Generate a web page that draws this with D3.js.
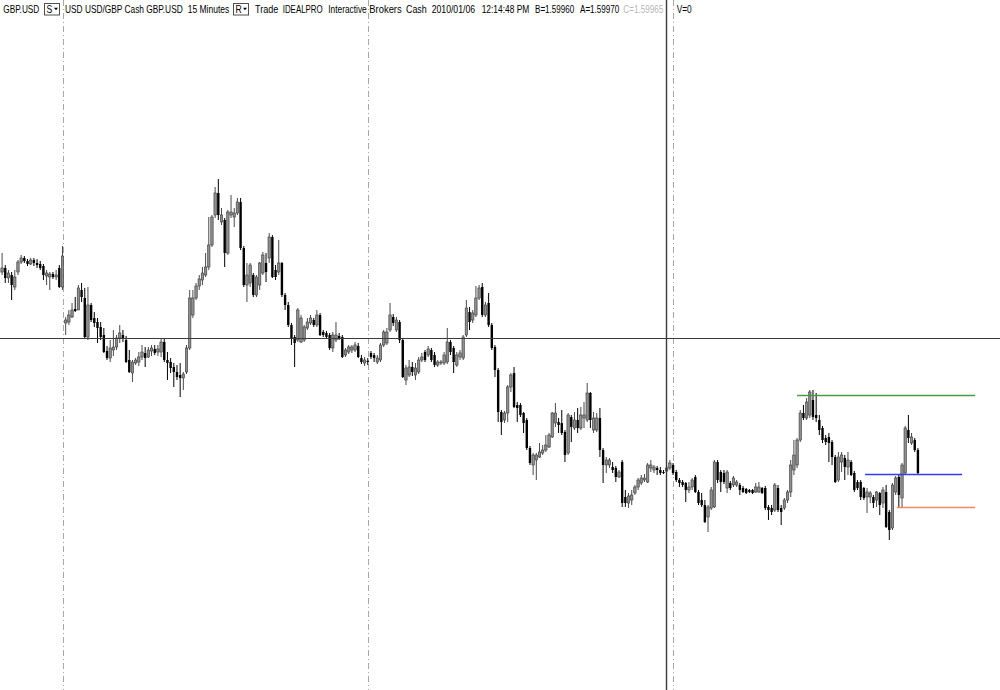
<!DOCTYPE html>
<html><head><meta charset="utf-8">
<script src="https://cdn.jsdelivr.net/npm/d3@7"></script>
<style>html,body{margin:0;padding:0;background:#fff;}svg{display:block;}</style>
</head><body>
<svg id="chart" width="1000" height="690"></svg>
<script>
// ---------- data ----------
const headerTexts = ["GBP.USD","S","USD USD/GBP Cash GBP.USD","15 Minutes","R","Trade","IDEALPRO","Interactive","Brokers","Cash","2010/01/06","12:14:48 PM","B=1.59960","A=1.59970","C=1.59965","V=0"];

const opens = [1.6097,1.6096,1.6098,1.6093,1.60945,1.60885,1.6096,1.6101,1.6103,1.61015,
1.6100,1.6102,1.61005,1.6100,1.6099,1.6094,1.60935,1.6095,1.60935,1.6098,
1.60885,1.60705,1.6071,1.60735,1.60775,1.6077,1.6087,1.6083,1.60635,1.60795,
1.6073,1.6071,1.60685,1.60645,1.60565,1.6053,1.6057,1.60585,1.6063,1.60645,
1.6062,1.6052,1.60455,1.60505,1.6051,1.60535,1.60555,1.60535,1.60565,1.60575,
1.6056,1.6056,1.6061,1.6052,1.6051,1.60485,1.6046,1.60445,1.6043,1.6046,
1.6058,1.60745,1.6083,1.6089,1.6092,1.60945,1.60985,1.61095,1.61245,1.61355,
1.6121,1.6122,1.61055,1.61245,1.61235,1.61255,1.6131,1.6108,1.60895,1.60905,
1.60945,1.60845,1.60895,1.60955,1.61005,1.6103,1.61135,1.6097,1.6096,1.61005,
1.60845,1.60795,1.60695,1.60635,1.6062,1.6061,1.6062,1.6068,1.60705,1.6072,
1.60695,1.60745,1.6066,1.60655,1.60645,1.6058,1.6062,1.6064,1.60635,1.60545,
1.6056,1.6057,1.6057,1.6059,1.6053,1.60505,1.60515,1.60555,1.60545,1.6051,
1.6052,1.60595,1.60605,1.6067,1.60735,1.6067,1.6071,1.6062,1.6042,1.60445,
1.60485,1.60445,1.6046,1.6052,1.6056,1.60545,1.6057,1.60545,1.60495,1.60505,
1.60505,1.6051,1.6061,1.6058,1.60495,1.60535,1.6053,1.60645,1.6076,1.6072,
1.60745,1.6083,1.60885,1.60745,1.60805,1.60695,1.60585,1.6047,1.6026,1.6022,
1.60255,1.60385,1.60455,1.60295,1.60295,1.60255,1.6022,1.6008,1.59995,1.6002,
1.60035,1.60055,1.6007,1.60085,1.60135,1.60205,1.6021,1.60205,1.6016,1.60055,
1.60235,1.6018,1.6022,1.6018,1.6023,1.6022,1.60355,1.6017,1.6017,1.6023,
1.6007,1.59995,1.59995,1.59985,1.5998,1.59935,1.6001,1.59835,1.59805,1.5982,
1.59855,1.59885,1.59905,1.5992,1.5991,1.5998,1.5997,1.5998,1.5997,1.5996,
1.59965,1.5998,1.59995,1.5996,1.5992,1.5991,1.59905,1.5987,1.59885,1.59935,
1.5986,1.5982,1.59795,1.59735,1.5978,1.59785,1.6001,1.5996,1.59955,1.5988,
1.59905,1.59895,1.59895,1.59895,1.5988,1.59875,1.5987,1.5987,1.5986,1.5986,
1.5988,1.5988,1.59785,1.5978,1.5977,1.5988,1.5978,1.5978,1.5982,1.5986,
1.5997,1.59995,1.6012,1.60255,1.6023,1.60245,1.6032,1.60245,1.6022,1.6018,
1.6013,1.60135,1.6011,1.60035,1.5992,1.6001,1.6003,1.59985,1.6001,1.59955,
1.5991,1.5991,1.5988,1.59835,1.59835,1.59835,1.5982,1.59855,1.59805,1.5986,
1.5976,1.5968,1.5986,1.59935,1.5983,1.59955,1.6017,1.60105,1.6012,1.6007];

const highs = [1.60995,1.61055,1.60995,1.6097,1.6096,1.6097,1.6102,1.61045,1.6104,1.61025,
1.6103,1.6103,1.61025,1.61015,1.6100,1.6097,1.6096,1.6096,1.6097,1.60995,
1.6109,1.60735,1.6077,1.60805,1.60835,1.60895,1.60905,1.6088,1.60885,1.60805,
1.6076,1.6073,1.6071,1.6068,1.6059,1.6062,1.6067,1.60645,1.60695,1.6067,
1.6064,1.6057,1.6052,1.6053,1.6056,1.60595,1.60585,1.60585,1.60595,1.60595,
1.60595,1.6063,1.6063,1.6056,1.6053,1.60505,1.60495,1.60505,1.6046,1.60595,
1.6087,1.6087,1.60905,1.60945,1.60985,1.61055,1.61235,1.61245,1.61385,1.61425,
1.6128,1.6123,1.6127,1.61345,1.6128,1.6133,1.6133,1.6109,1.61005,1.61005,
1.60955,1.60945,1.6101,1.6106,1.61055,1.61155,1.61145,1.60995,1.6112,1.6101,
1.60855,1.6081,1.60705,1.60645,1.6078,1.60745,1.60695,1.6073,1.60745,1.6073,
1.6077,1.60755,1.6067,1.60665,1.60655,1.6066,1.6071,1.60655,1.60645,1.6058,
1.60595,1.60595,1.6061,1.60605,1.60545,1.60535,1.6053,1.60565,1.60555,1.60545,
1.60605,1.6067,1.6068,1.60805,1.6075,1.60735,1.6072,1.6063,1.60495,1.6052,
1.6051,1.60505,1.60535,1.60555,1.6057,1.6059,1.6058,1.6056,1.6052,1.6052,
1.6056,1.6068,1.6062,1.6059,1.6056,1.6057,1.60645,1.6082,1.60785,1.6077,
1.6089,1.60895,1.60905,1.6081,1.60855,1.60705,1.60595,1.6048,1.6027,1.60265,
1.60395,1.60455,1.60485,1.6031,1.60305,1.6026,1.6023,1.6009,1.60055,1.60055,
1.60105,1.60095,1.60145,1.60155,1.6026,1.60305,1.6023,1.6027,1.6017,1.60255,
1.60245,1.6026,1.6028,1.60285,1.6031,1.60405,1.6036,1.6026,1.60255,1.6028,
1.6008,1.60035,1.6003,1.6001,1.5999,1.5997,1.6002,1.5987,1.59855,1.5987,
1.59895,1.5993,1.59945,1.5995,1.60005,1.6002,1.59995,1.5999,1.59985,1.5997,
1.5999,1.6002,1.60005,1.5997,1.5993,1.5992,1.5991,1.5991,1.5993,1.59945,
1.5987,1.59855,1.5982,1.59795,1.59885,1.6002,1.6002,1.5997,1.5997,1.5997,
1.59915,1.5994,1.5992,1.59905,1.5989,1.5988,1.59875,1.59875,1.59905,1.5991,
1.59885,1.5989,1.59795,1.59795,1.59905,1.59895,1.59795,1.5983,1.5987,1.6002,
1.6012,1.6013,1.6027,1.60295,1.6033,1.6037,1.6037,1.60355,1.60245,1.6019,
1.60145,1.60155,1.6012,1.60045,1.6006,1.6006,1.60045,1.6006,1.6002,1.59965,
1.5992,1.5992,1.59885,1.5988,1.59865,1.59845,1.59865,1.5986,1.59885,1.59895,
1.5977,1.59905,1.5994,1.59945,1.60005,1.6019,1.60245,1.60155,1.6013,1.6008];

const lows = [1.60905,1.60945,1.60905,1.60905,1.6082,1.6087,1.60945,1.6100,1.61005,1.6099,
1.60995,1.6099,1.6098,1.6097,1.6092,1.60895,1.6087,1.60925,1.6092,1.6088,
1.6087,1.60645,1.60695,1.6073,1.6076,1.6077,1.6081,1.6063,1.6062,1.6071,
1.60685,1.60605,1.6062,1.60555,1.6052,1.6051,1.6054,1.6057,1.60605,1.6061,
1.60505,1.60455,1.6041,1.60495,1.6049,1.6052,1.60485,1.6053,1.6054,1.60545,
1.6054,1.60535,1.6051,1.6042,1.60455,1.60385,1.6042,1.60335,1.6037,1.6045,
1.6057,1.6073,1.6082,1.6087,1.60895,1.60935,1.6097,1.61085,1.6123,1.6122,
1.61195,1.60985,1.61045,1.6123,1.61185,1.61245,1.6107,1.60885,1.6081,1.60885,
1.60835,1.60835,1.6087,1.60945,1.6091,1.61005,1.6093,1.6092,1.60945,1.60835,
1.6077,1.60685,1.60595,1.60485,1.6061,1.60605,1.6061,1.6067,1.60695,1.60685,
1.60685,1.6064,1.60635,1.60625,1.6057,1.6056,1.6061,1.6062,1.6053,1.60535,
1.6055,1.60555,1.6056,1.6053,1.6050,1.6049,1.60495,1.60525,1.6051,1.6050,
1.6051,1.60585,1.60595,1.6066,1.6069,1.6066,1.60605,1.6043,1.60395,1.60435,
1.6044,1.6042,1.6045,1.6051,1.6051,1.60535,1.6051,1.60485,1.60485,1.60495,
1.60495,1.6050,1.60545,1.60455,1.60485,1.6052,1.6052,1.60635,1.6067,1.60705,
1.60735,1.6082,1.60735,1.60735,1.60685,1.6057,1.60435,1.6021,1.60145,1.60205,
1.6021,1.6036,1.6028,1.6021,1.60235,1.60155,1.6007,1.59995,1.59945,1.5992,
1.6003,1.60045,1.6006,1.6008,1.6013,1.60185,1.60155,1.60145,1.6001,1.60045,
1.6011,1.6017,1.60155,1.6017,1.6018,1.6021,1.6018,1.60155,1.6016,1.60035,
1.59905,1.59955,1.5998,1.59955,1.5991,1.5993,1.59785,1.59785,1.5978,1.59795,
1.59845,1.5987,1.59895,1.5991,1.59905,1.5996,1.59955,1.59945,1.59945,1.5995,
1.5996,1.5997,1.59945,1.5991,1.59885,1.59885,1.5981,1.59855,1.5987,1.59855,
1.59795,1.59785,1.59705,1.5966,1.5977,1.5978,1.59905,1.5986,1.5990,1.59855,
1.5987,1.59885,1.59885,1.59845,1.59855,1.5985,1.59855,1.5985,1.59855,1.59855,
1.5985,1.5977,1.5972,1.59745,1.5976,1.5976,1.59695,1.5977,1.59805,1.59835,
1.59945,1.5998,1.6011,1.6022,1.6022,1.6023,1.6022,1.6021,1.60145,1.60105,
1.60095,1.6001,1.59995,1.59905,1.5991,1.5996,1.5992,1.59945,1.5994,1.5986,
1.5987,1.5982,1.5982,1.59755,1.59805,1.5978,1.59785,1.59745,1.5978,1.5968,
1.5962,1.5967,1.59845,1.5978,1.5978,1.59945,1.60105,1.60095,1.6006,1.59945];

const closes = [1.60955,1.6098,1.6093,1.60955,1.60895,1.60935,1.6101,1.6103,1.61015,1.6100,
1.6102,1.61005,1.60995,1.6098,1.60945,1.60955,1.6095,1.60935,1.60945,1.60885,
1.6104,1.6072,1.60745,1.6077,1.60765,1.6088,1.60835,1.60635,1.60795,1.6072,
1.60705,1.6068,1.60635,1.6056,1.6053,1.6058,1.60585,1.6063,1.60655,1.60625,
1.6051,1.6046,1.6051,1.6052,1.60535,1.6056,1.6053,1.6057,1.6058,1.60555,
1.60575,1.6061,1.6052,1.60505,1.6048,1.6046,1.60435,1.6043,1.6045,1.6058,
1.6083,1.6083,1.6089,1.60925,1.60955,1.60985,1.61095,1.61235,1.61355,1.61245,
1.61245,1.61055,1.6126,1.6126,1.61255,1.6131,1.6108,1.60895,1.60945,1.60995,
1.60845,1.60935,1.61005,1.61045,1.6096,1.61135,1.60935,1.60935,1.61005,1.60845,
1.60795,1.60695,1.6063,1.60605,1.6077,1.6073,1.60685,1.6071,1.6073,1.60695,
1.60745,1.60645,1.60645,1.60635,1.6058,1.60645,1.60645,1.6063,1.60535,1.6057,
1.60585,1.60585,1.60595,1.60535,1.6051,1.6052,1.6051,1.60535,1.6053,1.6053,
1.60595,1.6066,1.6066,1.60745,1.60705,1.6072,1.6062,1.60435,1.6048,1.60485,
1.6046,1.6048,1.6052,1.60535,1.6052,1.60575,1.6052,1.60495,1.6051,1.6051,
1.60545,1.6061,1.6056,1.6051,1.60545,1.60555,1.60635,1.6078,1.6071,1.60755,
1.6083,1.6088,1.60745,1.60795,1.60695,1.6058,1.6047,1.6026,1.6021,1.60255,
1.60385,1.60445,1.60285,1.6028,1.60245,1.60205,1.6008,1.60005,1.60045,1.60045,
1.6006,1.6007,1.60095,1.60145,1.60255,1.60255,1.60195,1.60155,1.60045,1.60245,
1.60185,1.6022,1.6018,1.60245,1.60245,1.60355,1.6022,1.6023,1.6023,1.6007,
1.59995,1.6002,1.6002,1.5997,1.59935,1.5996,1.59805,1.59805,1.5984,1.59845,
1.59885,1.5992,1.5993,1.5993,1.59995,1.59995,1.59985,1.5997,1.59955,1.59955,
1.5998,1.60005,1.59955,1.5992,1.59905,1.59895,1.5987,1.59885,1.5992,1.5986,
1.59805,1.59795,1.5971,1.59785,1.5987,1.6001,1.5992,1.5991,1.5991,1.5996,
1.5988,1.5993,1.5991,1.5987,1.5986,1.59855,1.5986,1.59855,1.59885,1.59885,
1.59855,1.5978,1.5977,1.5976,1.59895,1.5977,1.5976,1.5982,1.5986,1.59995,
1.60045,1.6012,1.60255,1.6023,1.6031,1.6036,1.60235,1.6023,1.6017,1.6012,
1.6011,1.60105,1.60035,1.5991,1.60035,1.60045,1.59985,1.6002,1.59945,1.5987,
1.5988,1.59835,1.5983,1.5986,1.59855,1.59805,1.5986,1.59795,1.5987,1.59685,
1.5967,1.59895,1.5993,1.59845,1.59995,1.6018,1.6013,1.60135,1.6007,1.59955];

// bar index where each new session starts
const sessionBreaks = [20, 116, 212];
// cursor (crosshair) position: bar index and price
const cursorIndex = 209.8;
const cursorPrice = 1.6063;
// horizontal order levels
const levelPrices = [1.60345, 1.5995, 1.59785];
const levelFrom   = [251, 272.4, 282.4];
const levelTo     = [307, 302.9, 307];
const levelColors = ["#4a9a4a", "#3a3af2", "#f08a66"];

// ---------- chart ----------
const W = 1000, H = 690;
const svg = d3.select("#chart");
const n = opens.length;
const barStep = 3.18, firstX = -1.1;
const x = d3.scaleLinear().domain([0, n - 1]).range([firstX, firstX + (n - 1) * barStep]);
const y = d3.scaleLinear().domain([1.5887, 1.6232]).range([H, 0]);

svg.append("rect").attr("width", W).attr("height", H).attr("fill", "#fff");

// session separators (dash-dot)
svg.append("g").selectAll("line").data(sessionBreaks).join("line")
  .attr("x1", d => Math.round(x(d)) + 0.5).attr("x2", d => Math.round(x(d)) + 0.5)
  .attr("y1", 0).attr("y2", H)
  .attr("stroke", "#a8a8a8").attr("stroke-width", 1)
  .attr("stroke-dasharray", "6,3,1,3");

const bars = d3.range(n).map(i => ({i, o: opens[i], h: highs[i], l: lows[i], c: closes[i]}));
const g = svg.append("g");
g.selectAll("line.wick").data(bars).join("line").attr("class", "wick")
  .attr("x1", d => x(d.i)).attr("x2", d => x(d.i))
  .attr("y1", d => y(d.h)).attr("y2", d => y(d.l))
  .attr("stroke", d => d.c >= d.o ? "#4a4a4a" : "#000").attr("stroke-width", 1);
g.selectAll("rect.body").data(bars).join("rect").attr("class", "body")
  .attr("x", d => x(d.i) - 1.2).attr("width", 2.4)
  .attr("y", d => Math.min(y(d.o), y(d.c)))
  .attr("height", d => Math.max(1, Math.abs(y(d.o) - y(d.c))))
  .attr("fill", d => d.c >= d.o ? "#8e8e8e" : "#000")
  .attr("stroke", d => d.c >= d.o ? "#3a3a3a" : "none")
  .attr("stroke-width", 0.6);

// crosshair
const cx = Math.round(x(cursorIndex)) + 0.5, cy = Math.round(y(cursorPrice)) + 0.5;
svg.append("line").attr("x1", 0).attr("x2", W).attr("y1", cy).attr("y2", cy)
  .attr("stroke", "#3a3a3a").attr("stroke-width", 1);
svg.append("line").attr("x1", cx).attr("x2", cx).attr("y1", 0).attr("y2", H)
  .attr("stroke", "#3a3a3a").attr("stroke-width", 1.4);

// order levels
svg.append("g").selectAll("line").data(levelPrices).join("line")
  .attr("x1", (d, k) => x(levelFrom[k])).attr("x2", (d, k) => x(levelTo[k]))
  .attr("y1", d => Math.round(y(d)) + 0.5).attr("y2", d => Math.round(y(d)) + 0.5)
  .attr("stroke", (d, k) => levelColors[k]).attr("stroke-width", 1.3);

// header
const hdrX = [3.3, 44.5, 65, 187.7, 233.5, 255, 282.7, 328.3, 369.3, 406, 431.7, 481.7, 535, 580, 623.3, 676.7];
const hdrW = [36, 15, 117.7, 41.6, 15, 23.3, 40, 38.4, 32.4, 20.7, 43.3, 47.6, 39.3, 39.3, 40, 15];
const hdr = svg.append("g").attr("font-family", "'Liberation Sans', Arial, sans-serif").attr("font-size", 8.6);
headerTexts.forEach((t, k) => {
  if (t === "S" || t === "R") {
    hdr.append("rect").attr("x", hdrX[k]).attr("y", 3.5).attr("width", hdrW[k]).attr("height", 11.5)
      .attr("fill", "#fff").attr("stroke", "#505050").attr("stroke-width", 1);
    hdr.append("text").attr("transform", `translate(${hdrX[k] + 2},13) scale(1,1.18)`)
      .attr("fill", "#000").text(t);
    const tx = hdrX[k] + 9.5;
    hdr.append("path").attr("d", `M${tx},7.8 L${tx + 4},7.8 L${tx + 2},10.2 Z`).attr("fill", "#000");
  } else {
    hdr.append("text").attr("transform", `translate(${hdrX[k]},13) scale(1,1.18)`)
      .attr("textLength", hdrW[k]).attr("lengthAdjust", "spacingAndGlyphs")
      .attr("fill", t.startsWith("C=") ? "#b8b8b8" : "#000").text(t);
  }
});
</script>
</body></html>
